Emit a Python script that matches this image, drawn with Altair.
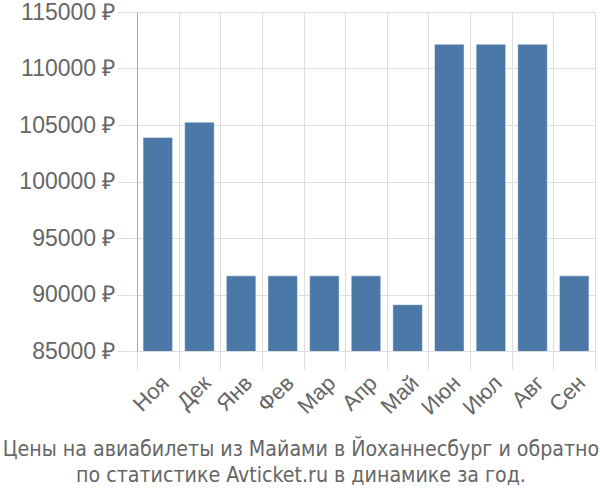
import altair as alt
import pandas as pd

months = ["Ноя", "Дек", "Янв", "Фев", "Мар", "Апр", "Май", "Июн", "Июл", "Авг", "Сен"]
prices = [103900, 105250, 91650, 91650, 91650, 91650, 89100, 112150, 112150, 112150, 91650]
y_ticks = [85000, 90000, 95000, 100000, 105000, 110000, 115000]
title_lines = [
    "Цены на авиабилеты из Майами в Йоханнесбург и обратно",
    "по статистике Avticket.ru в динамике за год.",
]

df = pd.DataFrame({"month": months, "price": prices})

chart = (
    alt.Chart(df)
    .mark_bar(
        color="#4c78a8",
        stroke="#ffffff",
        strokeOpacity=0.5,
        strokeWidth=1,
        width=alt.RelativeBandSize(0.71),
        clip=True,
    )
    .encode(
        x=alt.X(
            "month:N",
            sort=months,
            title=None,
            scale=alt.Scale(paddingInner=0, paddingOuter=0),
            axis=alt.Axis(
                labelAngle=-45,
                labelFontSize=22,
                labelColor="#666666",
                labelFont="Liberation Sans",
                grid=True,
                gridColor="#dddddd",
                tickBand="extent",
                tickSize=18,
                tickColor="#dddddd",
                domain=False,
                labelPadding=3,
            ),
        ),
        y=alt.Y(
            "price:Q",
            title=None,
            scale=alt.Scale(domain=[85000, 115000], zero=False, nice=False),
            axis=alt.Axis(
                values=y_ticks,
                labelExpr="datum.value + ' ₽'",
                labelFontSize=23,
                labelColor="#666666",
                labelFont="Liberation Sans",
                tickSize=20,
                tickColor="#dddddd",
                gridColor="#dddddd",
                domainColor="#aaaaaa",
                labelPadding=2,
            ),
        ),
    )
    .properties(
        width=458,
        height=339,
        padding={"left": 2, "top": 1, "right": 0, "bottom": 5},
        title=alt.TitleParams(
            title_lines,
            orient="bottom",
            anchor="middle",
            frame="group",
            dx=-65,
            fontSize=21.2,
            font="DejaVu Sans Condensed, Liberation Sans",
            fontWeight="normal",
            color="#666666",
            lineHeight=26,
            offset=21,
        ),
    )
    .configure_view(stroke=None)
)

chart.save("out.html", embed_options={"renderer": "svg", "actions": False})
